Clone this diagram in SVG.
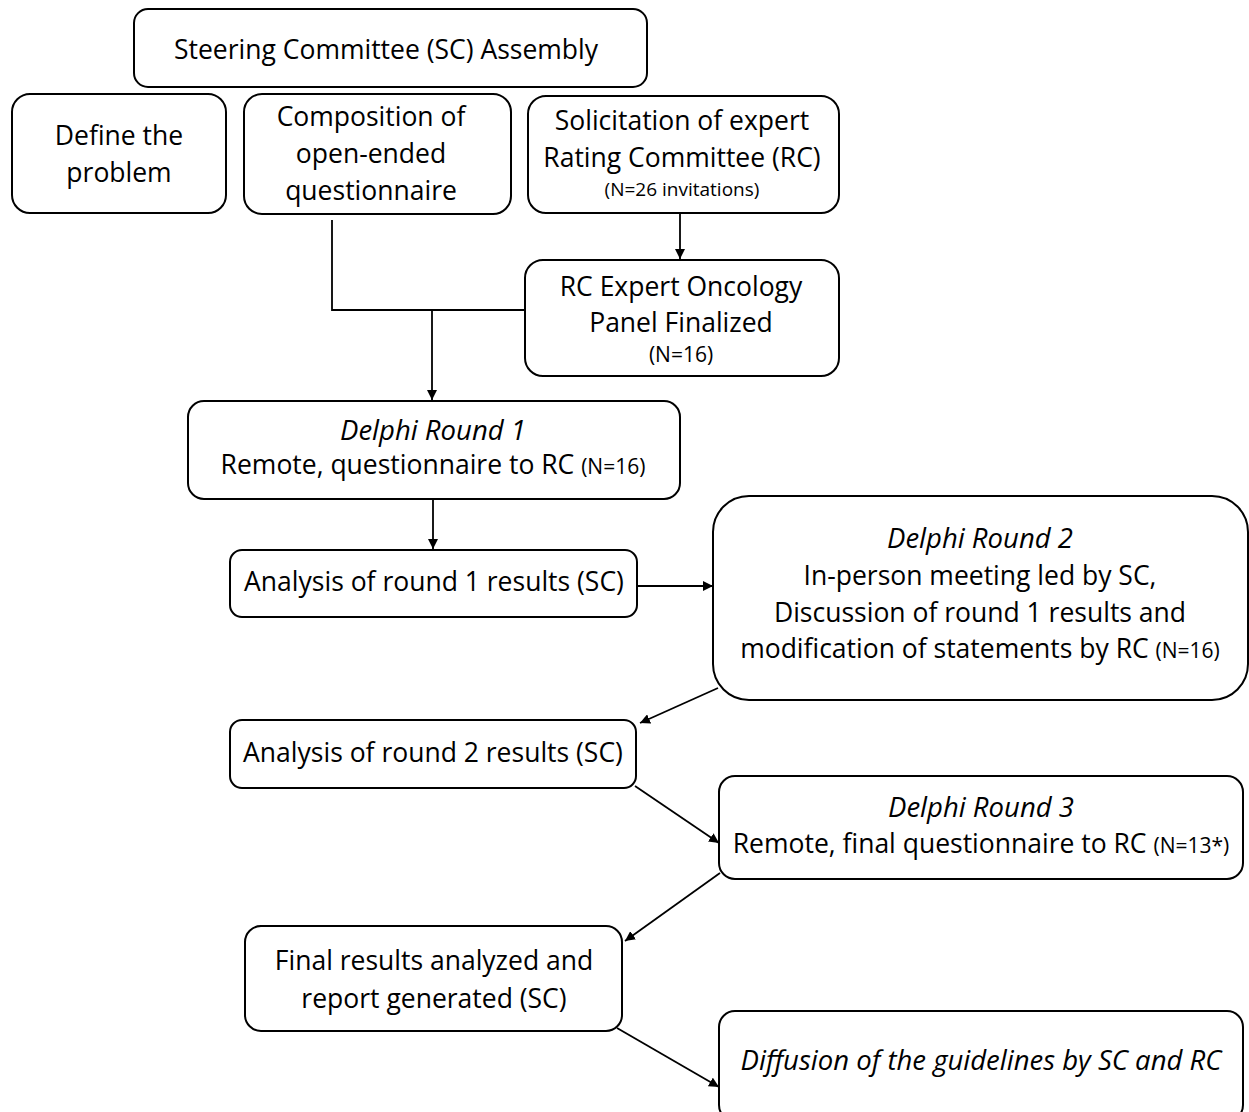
<svg xmlns="http://www.w3.org/2000/svg" width="1249" height="1112" viewBox="0 0 1249 1112">
<style>
.box{fill:#fff;stroke:#000;stroke-width:2}
.t{font-family:"Open Sans","Noto Sans",sans-serif;font-size:26.5px;fill:#000;text-anchor:middle}
.i{font-style:italic;font-size:27.5px}
.s{font-size:19px}
.n{font-size:21px}
.c{fill:none;stroke:#000;stroke-width:1.8}
</style>
<defs>
<marker id="ah" viewBox="0 0 10 10" refX="10" refY="5" markerWidth="10" markerHeight="10" markerUnits="userSpaceOnUse" orient="auto">
<path d="M0,0 L10,5 L0,10 Z" fill="#000"/>
</marker>
</defs>
<rect width="1249" height="1112" fill="#fff"/>
<g id="connectors">
<polyline class="c" points="332,220 332,310 525,310"/>
<line class="c" x1="432" y1="310" x2="432" y2="400" marker-end="url(#ah)"/>
<line class="c" x1="680" y1="213" x2="680" y2="259" marker-end="url(#ah)"/>
<line class="c" x1="433" y1="499" x2="433" y2="549" marker-end="url(#ah)"/>
<line class="c" x1="637" y1="586" x2="713" y2="586" marker-end="url(#ah)"/>
<line class="c" x1="718" y1="688" x2="640" y2="723" marker-end="url(#ah)"/>
<line class="c" x1="635" y1="786" x2="719" y2="843" marker-end="url(#ah)"/>
<line class="c" x1="720" y1="873" x2="625" y2="941" marker-end="url(#ah)"/>
<line class="c" x1="617" y1="1028" x2="719" y2="1087" marker-end="url(#ah)"/>
</g>
<g id="n1"><rect class="box" x="134" y="9" width="513" height="78" rx="14"/>
<text class="t" x="386" y="59">Steering Committee (SC) Assembly</text></g>
<g id="n2"><rect class="box" x="12" y="94" width="214" height="119" rx="18"/>
<text class="t" x="119" y="145">Define the</text><text class="t" x="119" y="182">problem</text></g>
<g id="n3"><rect class="box" x="244" y="94" width="267" height="120" rx="18"/>
<text class="t" x="371" y="126">Composition of</text><text class="t" x="371" y="163">open-ended</text><text class="t" x="371" y="200">questionnaire</text></g>
<g id="n4"><rect class="box" x="528" y="96" width="311" height="117" rx="18"/>
<text class="t" x="682" y="130">Solicitation of expert</text><text class="t" x="682" y="167">Rating Committee (RC)</text><text class="t s" x="682" y="196">(N=26 invitations)</text></g>
<g id="n5"><rect class="box" x="525" y="260" width="314" height="116" rx="18"/>
<text class="t" x="681" y="296">RC Expert Oncology</text><text class="t" x="681" y="332">Panel Finalized</text><text class="t n" x="681" y="362">(N=16)</text></g>
<g id="n6"><rect class="box" x="188" y="401" width="492" height="98" rx="16"/>
<text class="t i" x="433" y="440">Delphi Round 1</text><text class="t" x="433" y="474">Remote, questionnaire to RC <tspan class="n">(N=16)</tspan></text></g>
<g id="n7"><rect class="box" x="230" y="550" width="407" height="67" rx="12"/>
<text class="t" x="434" y="591">Analysis of round 1 results (SC)</text></g>
<g id="n8"><rect class="box" x="713" y="496" width="535" height="204" rx="36"/>
<text class="t i" x="980" y="548">Delphi Round 2</text><text class="t" x="980" y="585">In-person meeting led by SC,</text><text class="t" x="980" y="622">Discussion of round 1 results and</text><text class="t" x="980" y="658">modification of statements by RC <tspan class="n">(N=16)</tspan></text></g>
<g id="n9"><rect class="box" x="230" y="720" width="406" height="68" rx="12"/>
<text class="t" x="433" y="762">Analysis of round 2 results (SC)</text></g>
<g id="n10"><rect class="box" x="719" y="776" width="524" height="103" rx="16"/>
<text class="t i" x="981" y="817">Delphi Round 3</text><text class="t" x="981" y="853">Remote, final questionnaire to RC <tspan class="n">(N=13*)</tspan></text></g>
<g id="n11"><rect class="box" x="245" y="926" width="377" height="105" rx="16"/>
<text class="t" x="434" y="970">Final results analyzed and</text><text class="t" x="434" y="1008">report generated (SC)</text></g>
<g id="n12"><rect class="box" x="719" y="1011" width="524" height="110" rx="16"/>
<text class="t i" x="981" y="1070">Diffusion of the guidelines by SC and RC</text></g>
</svg>
